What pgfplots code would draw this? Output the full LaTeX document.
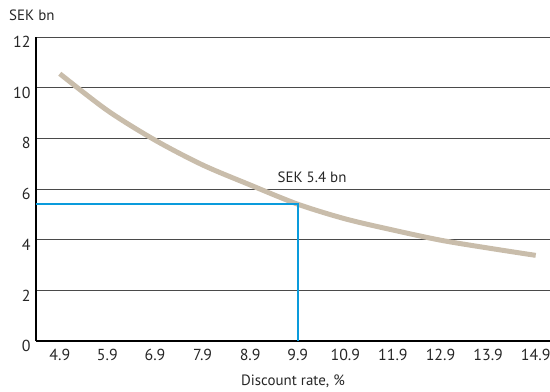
\documentclass[border=0pt]{standalone}
\usepackage{pgfplots}
\pgfplotsset{compat=1.18}
\usepackage{fontspec}
\setmainfont{PT Sans}
\definecolor{curvec}{HTML}{C9BDAB}
\definecolor{bluec}{HTML}{0A9BDC}
\definecolor{gridc}{HTML}{4A4A4A}
\begin{document}
\begin{tikzpicture}
\begin{axis}[
  scale only axis, width=514bp, height=304bp,
  at={(0,0)}, anchor=south west,
  xmin=4.4, xmax=15.2, ymin=0, ymax=12,
  xtick={4.9,5.9,6.9,7.9,8.9,9.9,10.9,11.9,12.9,13.9,14.9},
  xticklabels={4.9,5.9,6.9,7.9,8.9,9.9,10.9,11.9,12.9,13.9,14.9},
  ytick={0,2,4,6,8,10,12},
  yticklabels={0,2,4,6,8,10,12},
  axis x line*=bottom, axis y line*=left,
  x axis line style={line width=1.6pt, -},
  y axis line style={line width=1.1pt, -},
  major tick length=0pt,
  ymajorgrids, grid style={gridc, line width=0.8pt},
  ticklabel style={font=\fontsize{16}{18}\selectfont, text=black!85},
  xticklabel style={yshift=-5bp},
  yticklabel style={xshift=-2bp, yshift=-5bp},
  xlabel={Discount rate, \%},
  xlabel style={font=\fontsize{15}{17}\selectfont, text=black!85, yshift=-7bp},
  clip=false,
]
\addplot[curvec, line width=5pt, smooth] coordinates {
 (4.9,10.55) (5.9,9.1) (6.9,7.93) (7.9,6.95) (8.9,6.16) (9.9,5.4)
 (10.9,4.82) (11.9,4.38) (12.9,3.98) (13.9,3.67) (14.9,3.38)};
\addplot[bluec, line width=1.6pt] coordinates {(4.4,5.4) (9.9,5.4) (9.9,0)};
\node[font=\fontsize{15}{17}\selectfont, text=black!85] at (axis cs:10.2,6.45) {SEK 5.4 bn};
\end{axis}
\node[anchor=west, font=\fontsize{15}{17}\selectfont, text=black!85, inner sep=0pt] at (-27bp,326bp) {SEK bn};
\pgfresetboundingbox
\path (-36bp,-51bp) rectangle (514bp,341bp);
\end{tikzpicture}
\end{document}
